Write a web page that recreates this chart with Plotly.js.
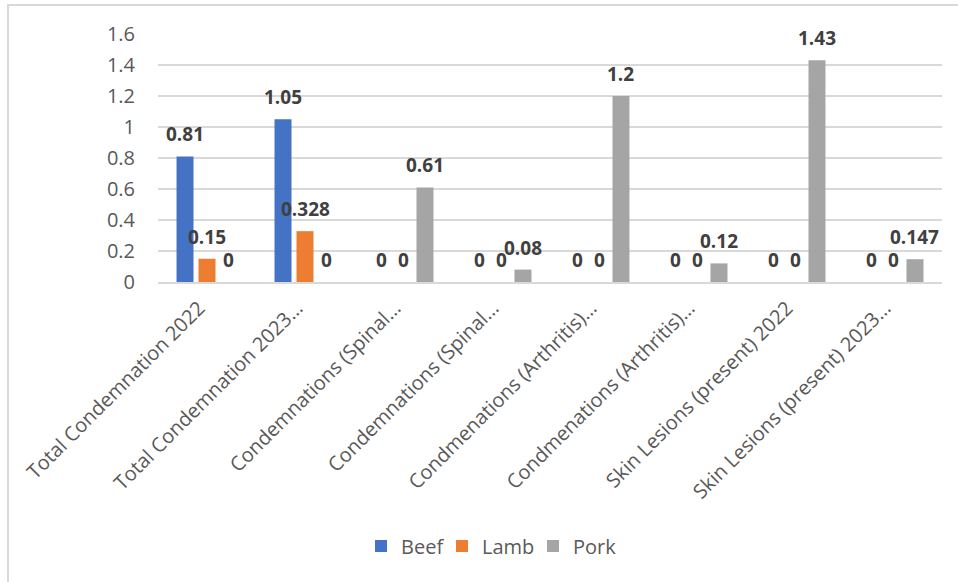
<!DOCTYPE html>
<html>
<head>
<meta charset="utf-8">
<script src="https://cdn.plot.ly/plotly-3.0.1.min.js"></script>
<style>
  html, body { margin: 0; padding: 0; background: #ffffff; overflow: hidden; }
  #frame { position: absolute; left: 7px; top: 4px; width: 960px; height: 590px;
           border-top: 2px solid #d9d9d9; border-left: 2px solid #d9d9d9; }
  #chart { position: absolute; left: 0; top: 0; width: 958px; height: 582px; }
</style>
</head>
<body>
<div id="frame"></div>
<div id="chart"></div>
<script>
// ---- data ----
const categories = [
  "Total Condemnation 2022",
  "Total Condemnation 2023…",
  "Condemnations (Spinal…",
  "Condemnations (Spinal…",
  "Condmenations (Arthritis)…",
  "Condmenations (Arthritis)…",
  "Skin Lesions (present) 2022",
  "Skin Lesions (present) 2023…"
];
const seriesNames = ["Beef", "Lamb", "Pork"];
const beef = [0.81, 1.05, 0, 0, 0, 0, 0, 0];
const lamb = [0.15, 0.328, 0, 0, 0, 0, 0, 0];
const pork = [0, 0, 0.61, 0.08, 1.2, 0.12, 1.43, 0.147];
const yTicks = [0, 0.2, 0.4, 0.6, 0.8, 1, 1.2, 1.4, 1.6];

// ---- style ----
const colors = ["#4472C4", "#ED7D31", "#A5A5A5"];
const FONT = "'Open Sans', 'Noto Sans', sans-serif";
const bargap = 0.327;
const idx = categories.map((_, i) => i);
const series = [beef, lamb, pork];
const legendIds = ["legend", "legend2", "legend3"];
const legendLeftPx = [361, 442, 533];

const traces = series.map((vals, s) => ({
  type: "bar",
  name: seriesNames[s],
  x: idx,
  y: vals,
  legend: legendIds[s],
  marker: { color: colors[s], line: { width: 0 } },
  hoverinfo: "skip"
}));

const slot = (1 - bargap) / series.length;
const annotations = [];
series.forEach((vals, s) => {
  vals.forEach((v, i) => {
    annotations.push({
      x: i + (s - (series.length - 1) / 2) * slot,
      y: v,
      xref: "x", yref: "y",
      text: "<b>" + String(v) + "</b>",
      showarrow: false,
      xanchor: "center",
      yanchor: "bottom",
      yshift: 7,
      font: { family: FONT, size: 19, color: "#404040" }
    });
  });
});

const ph = 582 - 34 - 300;
const pw = 958 - 158 - 16;
const layout = {
  width: 958,
  height: 582,
  margin: { l: 158, r: 16, t: 34, b: 300, pad: 0 },
  paper_bgcolor: "rgba(0,0,0,0)",
  plot_bgcolor: "rgba(0,0,0,0)",
  barmode: "group",
  bargap: bargap,
  bargroupgap: 0.227,
  showlegend: true,
  xaxis: {
    range: [-0.5, categories.length - 0.5],
    tickmode: "array",
    tickvals: idx,
    ticktext: categories,
    tickangle: -45,
    tickfont: { family: FONT, size: 20, color: "#595959" },
    ticklabelshift: -8,
    ticklabelstandoff: 5,
    showgrid: false,
    zeroline: false,
    showline: true,
    linecolor: "#d9d9d9",
    linewidth: 1.5,
    ticks: "",
    automargin: false,
    fixedrange: true
  },
  yaxis: {
    range: [0, 1.6],
    tickmode: "array",
    tickvals: yTicks,
    ticktext: yTicks.map(String),
    tickfont: { family: FONT, size: 20, color: "#595959" },
    showgrid: true,
    gridcolor: "#d9d9d9",
    gridwidth: 1.5,
    zeroline: false,
    showline: false,
    ticks: "",
    ticklabelstandoff: 22,
    automargin: false,
    fixedrange: true
  },
  annotations: annotations
};

legendIds.forEach((id, s) => {
  layout[id] = {
    orientation: "h",
    x: (legendLeftPx[s] - 158) / pw, xanchor: "left",
    y: -(546 - 282) / ph, yanchor: "middle",
    font: { family: FONT, size: 20, color: "#595959" },
    itemwidth: 30,
    bgcolor: "rgba(0,0,0,0)"
  };
});

Plotly.newPlot("chart", traces, layout, { displayModeBar: false, staticPlot: true });
</script>
</body>
</html>
